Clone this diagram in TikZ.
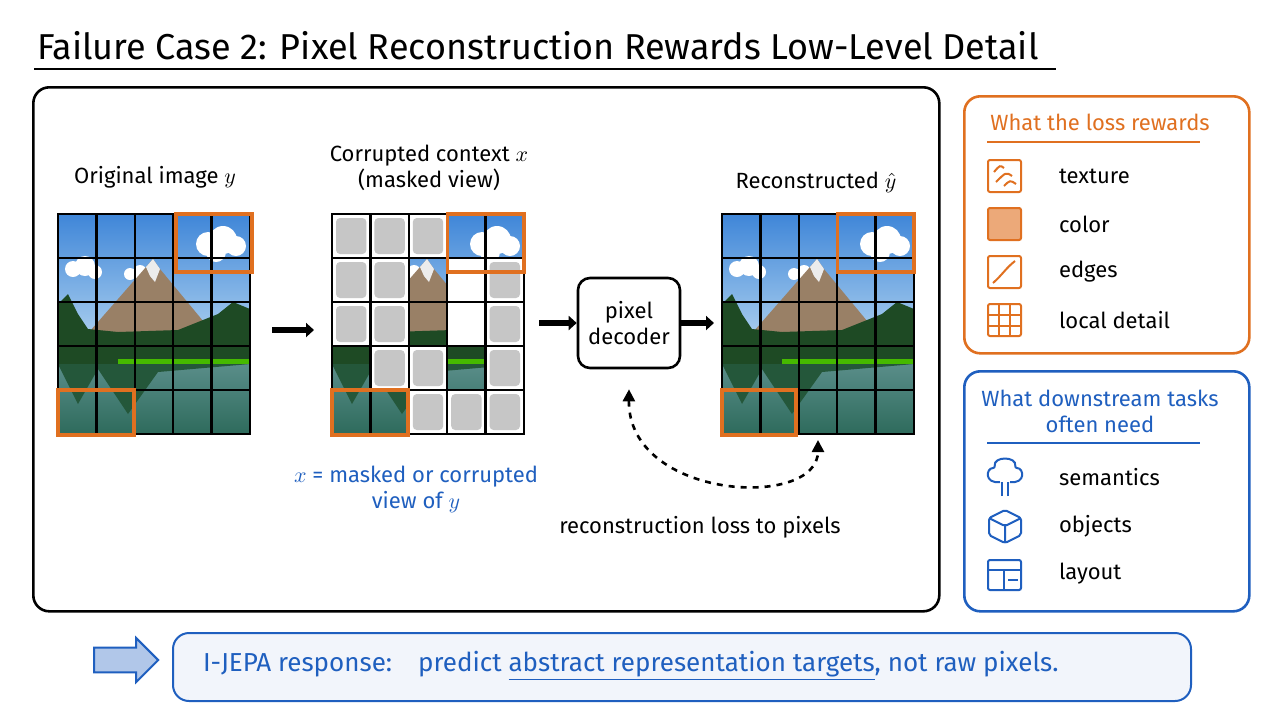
\documentclass[tikz,border=0pt]{standalone}
\usepackage{fontspec}
\setmainfont{Fira Sans}
\usetikzlibrary{positioning,calc,arrows.meta,shapes.arrows}
\definecolor{accor}{HTML}{E07020}
\definecolor{accbl}{HTML}{1F5FBF}
\definecolor{skytop}{HTML}{3F86D8}
\definecolor{skybot}{HTML}{BFDDF3}
\definecolor{pine}{HTML}{1E4A24}
\definecolor{lake}{HTML}{2E6B5C}
\tikzset{panel/.style={draw, rounded corners=8, line width=1.3pt},
  lbl/.style={font=\fontsize{11}{13}\selectfont, align=center},
  arr/.style={-{Triangle[length=4pt,width=7pt]}, line width=3pt},
  hl/.style={draw=accor, line width=1.6pt},
  ico/.style={line width=1pt, rounded corners=1}}
% a landscape tile, 192 x 220 units, origin at top left
\newcommand{\landscape}{%
  \begin{scope}
  \clip (0,0) rectangle (192,220);
  \shade[top color=skytop, bottom color=skybot] (0,0) rectangle (192,150);
  \fill[white] (150,30) circle (12) (165,26) circle (14) (178,32) circle (10) (158,38) circle (10);
  \fill[white] (15,55) circle (8) (27,52) circle (10) (37,58) circle (7) (82,58) circle (7) (72,60) circle (6);
  \fill[gray!60!brown] (25,125) -- (95,45) -- (102,55) -- (160,125) -- cycle;
  \fill[white!85!gray] (88,53) -- (95,45) -- (102,55) -- (97,68) -- (92,62) -- cycle;
  \fill[pine] (0,90) -- (10,80) -- (20,100) -- (30,115) -- (60,118) -- (120,116) -- (160,100) -- (175,88) -- (192,95) -- (192,150) -- (0,150) -- cycle;
  \fill[green!45!olive] (60,145) rectangle (192,152);
  \shade[top color=lake!70!skybot, bottom color=lake] (0,150) rectangle (192,220);
  \fill[pine!60!lake] (0,150) -- (20,190) -- (40,155) -- (70,200) -- (100,158) -- (192,150) -- cycle;
  \end{scope}}
\newcommand{\gridlines}{%
  \foreach \gx in {38.4,76.8,115.2,153.6} \draw[line width=1.2pt] (\gx,0) -- (\gx,220);
  \foreach \gy in {44,88,132,176} \draw[line width=1.2pt] (0,\gy) -- (192,\gy);
  \draw[line width=1.2pt] (0,0) rectangle (192,220);}
\begin{document}
\begin{tikzpicture}[x=0.5pt,y=-0.5pt]
\useasboundingbox[fill=white] (0,0) rectangle (1280,720);
% title
\node[anchor=west, font=\fontsize{18}{21}\selectfont] (title) at (30,46) {Failure Case 2: Pixel Reconstruction Rewards Low-Level Detail};
\draw[line width=1.3pt] (34,69) -- (1056,69);
% main panel
\node[panel, minimum width=906*0.5pt, minimum height=524*0.5pt, anchor=north west] (main) at (32,86) {};
% original
\node[lbl] (origlbl) at (155,177) {Original image $y$};
\begin{scope}[shift={(58,214)}]
  \landscape \gridlines
  \draw[hl] (118,0) rectangle (194,58);
  \draw[hl] (0,176) rectangle (76,221);
\end{scope}
% masked
\node[lbl] (masklbl) at (429,168) {Corrupted context $x$\\(masked view)};
\begin{scope}[shift={(332,214)}]
  \landscape
  \foreach \c/\r in {0/0,1/0,2/0,0/1,1/1,4/1,0/2,1/2,4/2,1/3,2/3,4/3,2/4,3/4,4/4}{
    \fill[white] (\c*38.4,\r*44) rectangle ++(38.4,44);
    \fill[gray!45, rounded corners=2] ($(\c*38.4,\r*44)+(4,4)$) rectangle ++(30.4,36);}
  \fill[white] (115.2,44) rectangle (153.6,132);
  \gridlines
  \draw[hl] (115.2,0) rectangle (192,58);
  \draw[hl] (0,176) rectangle (76,221);
\end{scope}
% decoder
\node[draw, rounded corners=6, line width=1.3pt, minimum width=102*0.5pt, minimum height=90*0.5pt, lbl] (dec) at (629,323) {pixel\\decoder};
% reconstructed
\node[lbl] (reclbl) at (816,182) {Reconstructed $\hat{y}$};
\begin{scope}[shift={(722,214)}]
  \landscape \gridlines
  \draw[hl] (115.2,0) rectangle (192,58);
  \draw[hl] (0,176) rectangle (74,221);
\end{scope}
\coordinate (o1) at (272,330); \coordinate (o2) at (314,330);
\coordinate (m1) at (539,323); \coordinate (r2) at (714,323);
\draw[arr] (o1) -- (o2);
\draw[arr] (m1) -- (dec.west);
\draw[arr] (dec.east) -- (r2);
\node[lbl, text=accbl] (xlbl) at (416,489) {$x$ = masked or corrupted\\view of $y$};
% loss loop
\coordinate (recb) at (818,440);
\draw[dashed, line width=1.3pt, {Triangle[length=6pt,width=6pt]}-{Triangle[length=6pt,width=6pt]}] (dec.south) ++(0,20) .. controls (628,500) and (818,510) .. (recb);
\node[lbl] (losslbl) at (700,527) {reconstruction loss to pixels};
% orange panel
\node[panel, draw=accor, minimum width=285*0.5pt, minimum height=257*0.5pt, anchor=north west] (rew) at (963,95) {};
\node[lbl, text=accor] (rewt) at (1100,122) {What the loss rewards};
\draw[accor, line width=1pt] (987,142) -- (1200,142);
\foreach \y/\t in {176/texture,224/color,272/edges,320/local detail}
  \node[lbl, anchor=west] at (1052,\y) {\t};
\begin{scope}[accor, ico]
  \draw (988,160) rectangle (1021,192);
  \draw (994,172) .. controls (1000,165) .. (1004,168) (996,182) .. controls (1006,172) .. (1012,176) (1004,186) .. controls (1010,180) .. (1016,184);
  \draw[fill=accor!60] (988,208) rectangle (1021,240);
  \draw (988,256) rectangle (1021,288);
  \draw (993,283) .. controls (1003,274) and (1006,268) .. (1015,261);
  \draw (988,304) rectangle (1021,336);
  \draw (999,304) -- (999,336) (1010,304) -- (1010,336) (988,315) -- (1021,315) (988,326) -- (1021,326);
\end{scope}
% blue panel
\node[panel, draw=accbl, minimum width=285*0.5pt, minimum height=240*0.5pt, anchor=north west] (need) at (963,370) {};
\node[lbl, text=accbl] (needt) at (1100,411) {What downstream tasks\\often need};
\draw[accbl, line width=1pt] (987,443) -- (1200,443);
\foreach \y/\t in {477/semantics,526/objects,574/layout}
  \node[lbl, anchor=west] at (1052,\y) {\t};
\begin{scope}[accbl, ico]
  \draw (1002,496) -- (1002,482) (1008,496) -- (1008,482);
  \draw (1000,482) .. controls (984,484) and (986,468) .. (995,468) .. controls (993,456) and (1017,456) .. (1015,468) .. controls (1024,468) and (1026,484) .. (1010,482);
  \draw (1005,510) -- (1021,518) -- (1021,535) -- (1005,543) -- (989,535) -- (989,518) -- cycle;
  \draw (989,518) -- (1005,526) -- (1021,518) (1005,526) -- (1005,543);
  \draw (988,560) rectangle (1021,590);
  \draw (988,570) -- (1021,570) (1004,570) -- (1004,590) (1008,580) -- (1018,580);
\end{scope}
% bottom banner
\node[panel, draw=accbl, fill=accbl!6, line width=1pt, minimum width=1018*0.5pt, minimum height=68*0.5pt, anchor=north west] (resp) at (172,632) {};
\node[single arrow, draw=accbl, fill=accbl!35, line width=1pt, minimum height=32pt, minimum width=22pt, single arrow head extend=3pt] (bigarr) at (120,660) {};
\node[anchor=west, text=accbl, font=\fontsize{13}{15}\selectfont] (resptxt) at (196,666)
  {I-JEPA response:\quad predict \underline{abstract representation targets}, not raw pixels.};
\end{tikzpicture}
\end{document}
